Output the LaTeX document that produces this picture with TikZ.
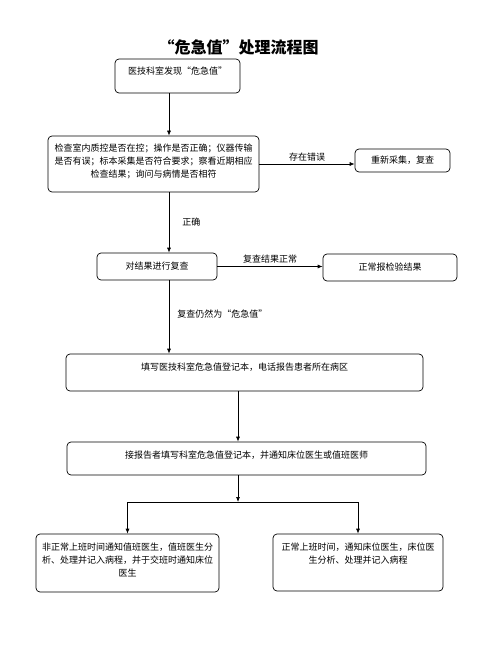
\documentclass[tikz,border=0pt]{standalone}
\usepackage{fontspec}
\setmainfont{Noto Sans CJK SC}
\usetikzlibrary{arrows.meta}
\tikzset{
	box/.style={draw, rounded corners=4pt, line width=0.7pt, inner sep=4pt, align=center, font=\fontsize{9}{13}\selectfont},
	topbox/.style={box, text height=12pt, text depth=#1},
	flow/.style={line width=0.7pt, -{Latex[length=5pt,width=4pt]}},
	tag/.style={font=\fontsize{9}{13}\selectfont, inner sep=2.5pt}
}

\begin{document}
\begin{tikzpicture}[x=1pt, y=-1pt]
	\useasboundingbox (0,0) rectangle (480,647);
	% Title
	\node[font=\fontsize{16}{16}\selectfont\bfseries, inner sep=0pt] (title) at (238.5,47.5) {“危急值”处理流程图};
	% Main column
	\node[topbox=14pt, minimum width=125pt] (find) at (177.5,76) {医技科室发现“危急值”};
	\node[topbox=36pt, text width=203pt] (check) at (153.5,164) {检查室内质控是否在控；操作是否正确；仪器传输\\是否有误；标本采集是否符合要求；察看近期相应\\检查结果；询问与病情是否相符};
	\node[box, minimum width=120pt, minimum height=27pt] (recheck) at (157,266.5) {对结果进行复查};
	\node[topbox=17pt, minimum width=357pt] (record) at (244.5,372.5) {填写医技科室危急值登记本，电话报告患者所在病区};
	\node[topbox=13pt, minimum width=359pt] (notify) at (246.5,458.5) {接报告者填写科室危急值登记本，并通知床位医生或值班医师};
	% Side branches
	\node[box, minimum width=95pt, minimum height=23pt] (redo) at (402.5,160.5) {重新采集，复查};
	\node[box, minimum width=134pt, minimum height=27pt] (normal) at (390,267.5) {正常报检验结果};
	% Bottom pair
	\node[topbox=38pt, text width=175pt] (offhours) at (127.5,563) {非正常上班时间通知值班医生，值班医生分\\析、处理并记入病程，并于交班时通知床位\\医生};
	\node[topbox=37pt, text width=162pt] (onduty) at (358,562.5) {正常上班时间，通知床位医生，床位医\\生分析、处理并记入病程};
	% Connectors
	\coordinate (spine) at (169,0);
	\coordinate (stem) at (238,0);
	\coordinate (split) at (238,502);
	\draw[flow] (find.south -| spine) -- (check.north -| spine);
	\draw[flow] (check.east) -- (check.east -| redo.west) node[tag, midway, above] {存在错误};
	\draw[flow] (check.south -| spine) -- (recheck.north -| spine) node[tag, midway, right, xshift=10.5pt] {正确};
	\draw[flow] (recheck.east) -- (recheck.east -| normal.west) node[tag, midway, above] {复查结果正常};
	\draw[flow] (recheck.south -| spine) -- (record.north -| spine) node[tag, pos=0.46, right, xshift=5.5pt] {复查仍然为“危急值”};
	\draw[flow] (record.south -| stem) -- (notify.north -| stem);
	\draw[flow] (notify.south -| stem) -- (split);
	\draw[flow] (split) -| (offhours.north);
	\draw[flow] (split) -| (onduty.north);
\end{tikzpicture}
\end{document}
